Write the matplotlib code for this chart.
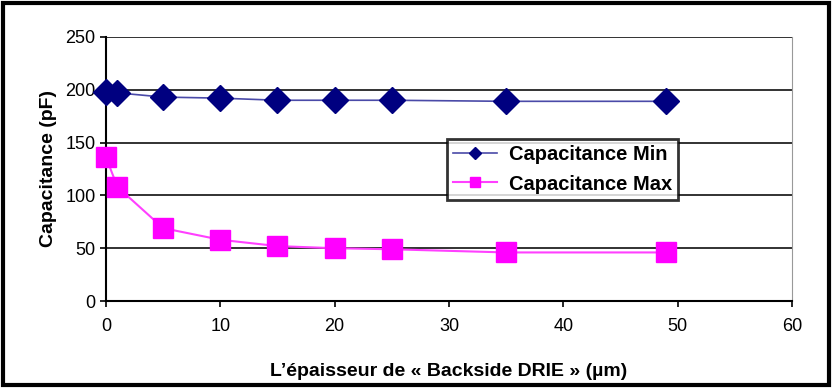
import matplotlib.pyplot as plt
import matplotlib.patches as mpatches

plt.rcParams['font.family'] = ['Liberation Sans', 'DejaVu Sans']

# épaisseur (µm)
epaisseur = [0, 1, 5, 10, 15, 20, 25, 35, 49]
cap_min = [198, 197, 193, 192, 190, 190, 190, 189, 189]
cap_max = [136, 108, 69, 58, 52, 50, 49, 46, 46]

fig = plt.figure(figsize=(8.38, 3.92), dpi=100)
ax = fig.add_axes([0.1265, 0.232, 0.8185, 0.674])

ax.plot(epaisseur, cap_min, color='#4a4aa8', lw=1.2, marker='D', ms=13,
        mfc='#000080', mec='#000080', label='Capacitance Min', zorder=3, clip_on=False)
ax.plot(epaisseur, cap_max, color='#ff40ff', lw=1.5, marker='s', ms=15,
        mfc='#ff00ff', mec='#ff00ff', label='Capacitance Max', zorder=3, clip_on=False)

ax.set_xlim(0, 60)
ax.set_ylim(0, 250)
ax.set_xticks(range(0, 61, 10))
ax.set_yticks(range(0, 251, 50))
ax.yaxis.grid(True, color='#222222', lw=1.3)
ax.set_axisbelow(True)
ax.tick_params(direction='out', length=4, labelsize=13, width=1.2)
ax.tick_params(axis='x', pad=8)

ax.spines['top'].set_visible(False)
ax.spines['right'].set_color('#999999')
ax.spines['left'].set_linewidth(1.5)
ax.spines['bottom'].set_linewidth(1.5)

ax.set_ylabel('Capacitance (pF)', fontsize=14, fontweight='bold', labelpad=6)
ax.set_xlabel('L\u2019épaisseur de « Backside DRIE » (µm)', fontsize=14,
              fontweight='bold', labelpad=20)

leg = ax.legend(loc='upper left', bbox_to_anchor=(0.482, 0.65),
                prop={'weight': 'bold', 'size': 14.5}, frameon=True, fancybox=False,
                edgecolor='black', markerscale=0.45, handlelength=2.2,
                borderpad=0.3, labelspacing=0.5, handletextpad=0.6)
leg.get_frame().set_linewidth(2)

fig.patches.append(mpatches.Rectangle((0.004, 0.018), 0.985, 0.975, transform=fig.transFigure,
                                      fill=False, edgecolor='black', lw=3))

fig.savefig('out.png', dpi=100)
